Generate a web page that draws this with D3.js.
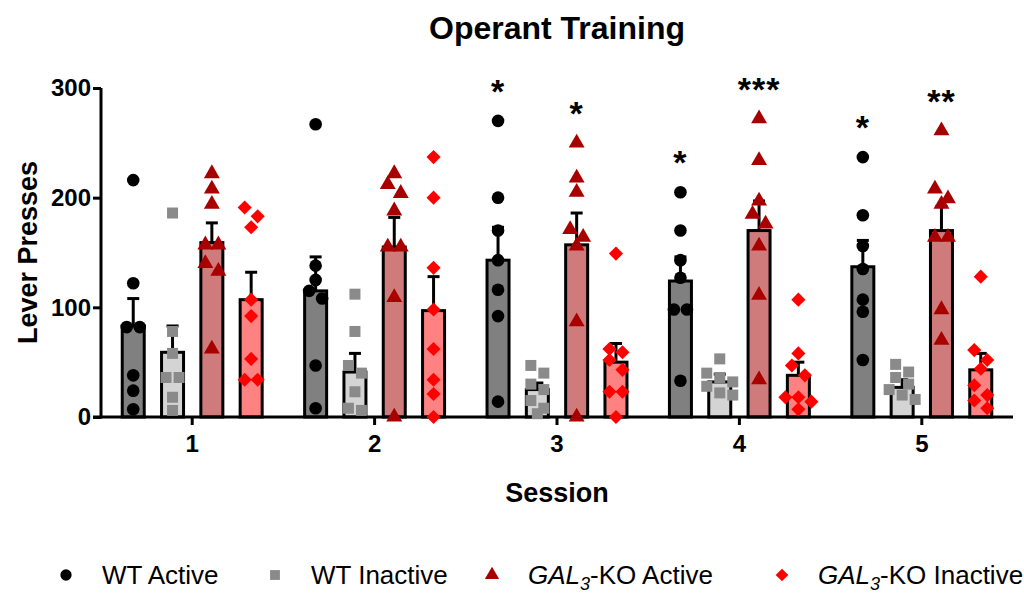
<!DOCTYPE html>
<html>
<head>
<meta charset="utf-8">
<script src="https://cdn.jsdelivr.net/npm/d3@7"></script>
<style>
  html, body { margin: 0; padding: 0; background: #fff; }
  svg { display: block; font-family: "Liberation Sans", Arial, sans-serif; }
</style>
</head>
<body>
<svg id="chart" width="1024" height="593"></svg>
<script>
// ---------------- data ----------------
const sessions = ["1", "2", "3", "4", "5"];
const seriesNames = ["WT Active", "WT Inactive", "GAL3-KO Active", "GAL3-KO Inactive"];
const yTicks = [0, 100, 200, 300];

const wtActiveMean = [83, 115, 143, 124, 137];
const wtActiveSem = [25, 31, 30, 22, 24];
const wtInactiveMean = [59, 41, 25, 32, 27];
const wtInactiveSem = [24, 17, 6, 7, 7];
const koActiveMean = [159, 155, 157, 170, 170];
const koActiveSem = [18, 27, 29, 27, 22];
const koInactiveMean = [107, 97, 50, 38, 43];
const koInactiveSem = [25, 31, 17, 12, 15];

const wtActivePts = [
  [216, 122, 82, 82, 38, 24, 7],
  [267, 138, 125, 115, 108, 47, 8],
  [270, 200, 170, 143, 116, 92, 14],
  [205, 170, 143, 127, 98, 98, 33],
  [237, 184, 156, 135, 107, 96, 52]
];
const wtInactivePts = [
  [186, 78, 58, 36, 36, 18, 6],
  [112, 78, 47, 40, 23, 8, 6],
  [47, 40, 30, 25, 15, 8, 3],
  [53, 40, 36, 32, 28, 22, 20],
  [48, 41, 36, 30, 25, 20, 16]
];
const koActivePts = [
  [222, 208, 194, 157, 157, 140, 133, 62],
  [222, 212, 204, 188, 155, 155, 109, 0],
  [250, 218, 205, 171, 164, 156, 87, 0],
  [272, 234, 197, 185, 176, 156, 111, 34],
  [261, 208, 199, 194, 164, 164, 98, 70]
];
const koInactivePts = [
  [191, 183, 173, 107, 92, 53, 34, 34],
  [237, 200, 136, 98, 62, 34, 21, 0],
  [149, 62, 59, 52, 43, 23, 23, 0],
  [107, 58, 47, 38, 18, 18, 14, 7],
  [128, 61, 52, 44, 29, 20, 15, 8]
];
const wtActiveSig = ["", "", "*", "*", "*"];
const wtInactiveSig = ["", "", "", "", ""];
const koActiveSig = ["", "", "*", "***", "**"];
const koInactiveSig = ["", "", "", "", ""];

// ---------------- styles ----------------
const styles = [
  { fill: "#808080", mark: "#000000", symbol: "circle", area: 125 },
  { fill: "#d4d4d4", mark: "#8a8a8a", symbol: "square", area: 121 },
  { fill: "#cf7b7b", mark: "#a80000", symbol: "triangle", area: 110 },
  { fill: "#ff8282", mark: "#ff0000", symbol: "diamond", area: 100 }
];
const series = [
  { name: seriesNames[0], mean: wtActiveMean, sem: wtActiveSem, pts: wtActivePts, sig: wtActiveSig },
  { name: seriesNames[1], mean: wtInactiveMean, sem: wtInactiveSem, pts: wtInactivePts, sig: wtInactiveSig },
  { name: seriesNames[2], mean: koActiveMean, sem: koActiveSem, pts: koActivePts, sig: koActiveSig },
  { name: seriesNames[3], mean: koInactiveMean, sem: koInactiveSem, pts: koInactivePts, sig: koInactiveSig }
];

const svg = d3.select("#chart");
const plot = { left: 101, right: 1013, top: 88, bottom: 417 };

const x0 = d3.scaleBand().domain(sessions).range([plot.left, plot.right]).paddingInner(0).paddingOuter(0);
const x1 = d3.scaleBand().domain(seriesNames).range([0, x0.bandwidth()]).paddingInner(0).paddingOuter(0.32);
const y = d3.scaleLinear().domain([0, 300]).range([plot.bottom, plot.top]);
const barW = 22;

function symbolPath(kind, area) {
  if (kind === "circle") return d3.symbol(d3.symbolCircle, area)();
  if (kind === "square") return d3.symbol(d3.symbolSquare, area)();
  if (kind === "triangle") return d3.symbol(d3.symbolTriangle, area)();
  return d3.symbol(d3.symbolSquare, area)();
}

// ---------------- bars ----------------
const barsG = svg.append("g");
series.forEach((s, si) => {
  sessions.forEach((sess, i) => {
    const cx = x0(sess) + x1(s.name) + x1.bandwidth() / 2;
    barsG.append("rect")
      .attr("x", cx - barW / 2)
      .attr("y", y(s.mean[i]))
      .attr("width", barW)
      .attr("height", y(0) - y(s.mean[i]))
      .attr("fill", styles[si].fill)
      .attr("stroke", "#000")
      .attr("stroke-width", 3);
  });
});

// ---------------- axes ----------------
const yAxis = d3.axisLeft(y).tickValues(yTicks).tickSize(8).tickSizeOuter(0).tickPadding(2);
const yg = svg.append("g").attr("transform", `translate(${plot.left},0)`).call(yAxis);
yg.select(".domain").attr("stroke-width", 3).attr("d", `M0,${plot.top}V${plot.bottom + 1.5}`);
yg.selectAll(".tick line").attr("stroke-width", 3);
yg.selectAll(".tick text").attr("font-size", 24).attr("font-weight", "bold")
  .attr("font-family", "'Liberation Sans', Arial, sans-serif").attr("fill", "#000");

const xAxis = d3.axisBottom(x0).tickSize(8).tickSizeOuter(0).tickPadding(10);
const xg = svg.append("g").attr("transform", `translate(0,${plot.bottom})`).call(xAxis);
xg.select(".domain").attr("stroke-width", 3).attr("d", `M${plot.left - 8},0H${plot.right}`);
xg.selectAll(".tick line").attr("stroke-width", 3);
xg.selectAll(".tick text").attr("font-size", 24).attr("font-weight", "bold")
  .attr("font-family", "'Liberation Sans', Arial, sans-serif").attr("fill", "#000");

// ---------------- error bars ----------------
const errG = svg.append("g");
series.forEach((s, si) => {
  sessions.forEach((sess, i) => {
    const cx = x0(sess) + x1(s.name) + x1.bandwidth() / 2;
    const yt = y(s.mean[i] + s.sem[i]);
    errG.append("line").attr("x1", cx).attr("x2", cx).attr("y1", y(s.mean[i])).attr("y2", yt)
      .attr("stroke", "#000").attr("stroke-width", 3);
    errG.append("line").attr("x1", cx - 6).attr("x2", cx + 6).attr("y1", yt).attr("y2", yt)
      .attr("stroke", "#000").attr("stroke-width", 3);
  });
});

// ---------------- points (simple row-based swarm) ----------------
const ptsG = svg.append("g");
const markSize = 13;
series.forEach((s, si) => {
  const st = styles[si];
  sessions.forEach((sess, i) => {
    const cx = x0(sess) + x1(s.name) + x1.bandwidth() / 2;
    const pts = s.pts[i].map(v => ({ v, py: y(v) })).sort((a, b) => a.py - b.py);
    const rows = [];
    pts.forEach(p => {
      const last = rows[rows.length - 1];
      if (last && p.py - last[0].py < markSize * 0.8) last.push(p);
      else rows.push([p]);
    });
    rows.forEach(row => {
      row.forEach((p, k) => {
        const px = cx + (k - (row.length - 1) / 2) * markSize;
        const rot = st.symbol === "diamond" ? " rotate(45)" : "";
        ptsG.append("path")
          .attr("d", symbolPath(st.symbol, st.area))
          .attr("transform", `translate(${px},${p.py})${rot}`)
          .attr("fill", st.mark);
      });
    });
    // significance stars
    if (s.sig[i]) {
      const top = d3.max(s.pts[i]);
      svg.append("text")
        .attr("x", cx)
        .attr("y", y(top) - 35 + 17)
        .attr("text-anchor", "middle")
        .attr("font-size", 34)
        .attr("font-weight", "bold")
        .attr("letter-spacing", 1)
        .text(s.sig[i]);
    }
  });
});

// ---------------- titles ----------------
svg.append("text").attr("x", (plot.left + plot.right) / 2).attr("y", 39)
  .attr("text-anchor", "middle").attr("font-size", 32).attr("font-weight", "bold")
  .text("Operant Training");
svg.append("text").attr("x", (plot.left + plot.right) / 2).attr("y", 502)
  .attr("text-anchor", "middle").attr("font-size", 27).attr("font-weight", "bold")
  .text("Session");
svg.append("text").attr("transform", `translate(37,${(plot.top + plot.bottom) / 2}) rotate(-90)`)
  .attr("text-anchor", "middle").attr("font-size", 27).attr("font-weight", "bold")
  .text("Lever Presses");

// ---------------- legend ----------------
const legendX = [66, 275, 492, 782];
const legendY = 575;
const lg = svg.append("g");
series.forEach((s, si) => {
  const st = styles[si];
  const rot = st.symbol === "diamond" ? " rotate(45)" : "";
  lg.append("path").attr("d", symbolPath(st.symbol, st.area * 0.8))
    .attr("transform", `translate(${legendX[si]},${legendY})${rot}`)
    .attr("fill", st.mark);
  const t = lg.append("text").attr("x", legendX[si] + 36).attr("y", legendY + 9)
    .attr("font-size", 26).attr("fill", "#000");
  if (s.name.startsWith("GAL3")) {
    t.append("tspan").attr("font-style", "italic").text("GAL");
    t.append("tspan").attr("font-style", "italic").attr("font-size", 18).attr("dy", 6).text("3");
    t.append("tspan").attr("dy", -6).text(s.name.slice(4));
  } else {
    t.text(s.name);
  }
});
</script>
</body>
</html>
